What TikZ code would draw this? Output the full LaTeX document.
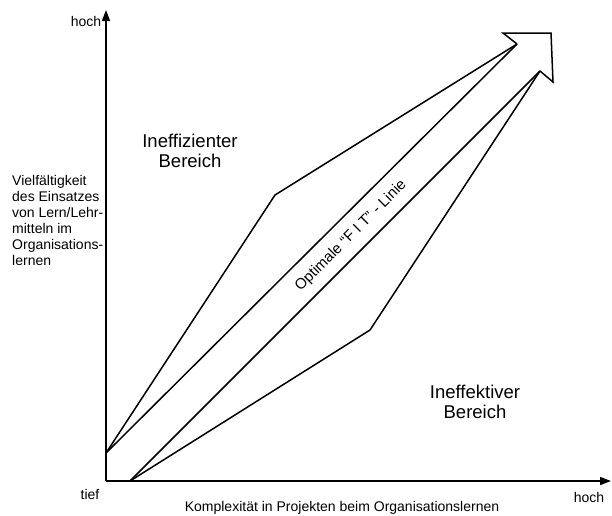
\documentclass[tikz,border=0pt]{standalone}
\usepackage{fontspec}
\setmainfont{Liberation Sans}
\usetikzlibrary{arrows.meta, positioning}

\begin{document}
\begin{tikzpicture}[
x=1pt, y=-1pt,
axis/.style={
line width=1.6pt,
-{Triangle[length=11pt,width=8pt]}
},
band/.style={
line width=1.5pt,
line join=miter
},
axislabel/.style={
font=\fontsize{14}{16}\selectfont,
inner sep=0pt
},
arealabel/.style={
font=\fontsize{18.5}{20}\selectfont,
align=center,
inner sep=0pt
}
]
\useasboundingbox (0,0) rectangle (612,515);

% Axes
\coordinate (origin) at (106,481);
\coordinate (ytop) at (106,10);
\coordinate (xend) at (611,481);
\draw[axis] (origin) -- (ytop);
\draw[axis] (origin) -- (xend);

% Corners of the band
\coordinate (left) at (106,453);
\coordinate (bottom) at (130,481);
\coordinate (upper) at (275,195);
\coordinate (lower) at (370,330);
\coordinate (notchA) at (517,44);
\coordinate (notchB) at (540,71);
\coordinate (headA) at (503,33);
\coordinate (headB) at (551,33);
\coordinate (headC) at (553,82);

% Band and arrow head
\draw[band] (left) -- (upper) -- (notchA);
\draw[band] (left) -- (notchA);
\draw[band] (bottom) -- (lower) -- (notchB);
\draw[band] (bottom) -- (notchB);
\draw[band] (notchA) -- (headA) -- (headB) -- (headC) -- (notchB);

% Axis labels
\node[axislabel,anchor=base] (yhigh) at (86,26) {hoch};
\node[axislabel,anchor=base] (low) at (90,499) {tief};
\node[axislabel,anchor=base] (xhigh) at (589,502) {hoch};
\node[axislabel,anchor=base] (xtitle) at (342,511)
{Komplexität in Projekten beim Organisationslernen};
\node[axislabel,align=left,anchor=north west] (ytitle) at (12,175)
{Vielfältigkeit\\
des Einsatzes\\
von Lern/Lehr-\\
mitteln im\\
Organisations-\\
lernen};

% Areas
\node[arealabel] (inefficient) at (190,151)
{Ineffizienter\\
Bereich};
\node[arealabel] (ineffective) at (475,402)
{Ineffektiver\\
Bereich};

% FIT line
\node[axislabel,font=\fontsize{15}{16}\selectfont,rotate=45] (fit) at (351,236)
{Optimale ``F I T'' - Linie};

\end{tikzpicture}
\end{document}
